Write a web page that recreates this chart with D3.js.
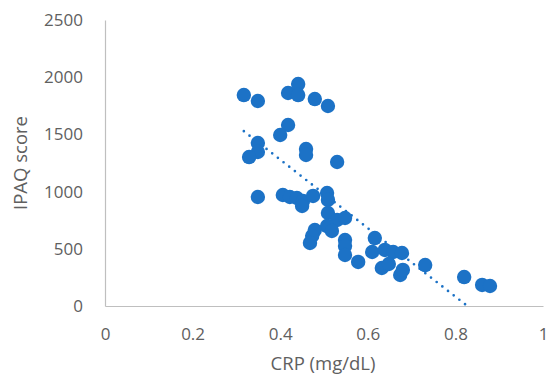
<!DOCTYPE html>
<html>
<head>
<meta charset="utf-8">
<script src="https://cdn.jsdelivr.net/npm/d3@7"></script>
<style>
  html, body { margin: 0; padding: 0; background: #fff; }
  svg { display: block; }
</style>
</head>
<body>
<svg id="chart" width="549" height="383"></svg>
<script>
// ---- data ----
const crp = [
  0.317, 0.349, 0.418, 0.441, 0.441, 0.479, 0.509, 0.418, 0.400, 0.349,
  0.349, 0.329, 0.459, 0.459, 0.530,
  0.349, 0.406, 0.422, 0.438, 0.452, 0.475, 0.507, 0.509, 0.450, 0.509,
  0.530, 0.548, 0.507, 0.518, 0.479, 0.473, 0.468, 0.548, 0.548, 0.548,
  0.578, 0.616, 0.610, 0.639, 0.658, 0.678, 0.632, 0.648, 0.674, 0.680,
  0.731, 0.820, 0.861, 0.879
];
const ipaq = [
  1844, 1792, 1862, 1940, 1844, 1809, 1748, 1582, 1495, 1425,
  1346, 1302, 1372, 1320, 1259,
  953, 970, 953, 944, 918, 962, 988, 927, 874, 813,
  752, 769, 699, 656, 664, 612, 551, 577, 524, 446,
  385, 594, 472, 490, 472, 463, 332, 367, 271, 315,
  358, 253, 184, 175
];
const xTicks = [0, 0.2, 0.4, 0.6, 0.8, 1];
const xTickLabels = ["0", "0.2", "0.4", "0.6", "0.8", "1"];
const yTicks = [0, 500, 1000, 1500, 2000, 2500];
const yTickLabels = ["0", "500", "1000", "1500", "2000", "2500"];
const xTitle = "CRP (mg/dL)";
const yTitle = "IPAQ score";

// ---- layout ----
const svg = d3.select("#chart");
const L = 105, R = 543, T = 20, B = 306;
const x = d3.scaleLinear().domain([0, 1]).range([L, R]);
const y = d3.scaleLinear().domain([0, 2500]).range([B, T]);
const font = "'Open Sans', 'Liberation Sans', sans-serif";
const textColor = "#606060";
const axisColor = "#bfbfbf";
const dotColor = "#1c72c6";

// axes
const xAxis = svg.append("g").attr("transform", `translate(0,${B})`)
  .call(d3.axisBottom(x).tickValues(xTicks).tickSize(0)
    .tickFormat((d, i) => xTickLabels[i]).tickPadding(22));
const yAxis = svg.append("g").attr("transform", `translate(${L},0)`)
  .call(d3.axisLeft(y).tickValues(yTicks).tickSize(0)
    .tickFormat((d, i) => yTickLabels[i]).tickPadding(22));
[xAxis, yAxis].forEach(g => {
  g.select(".domain").attr("stroke", axisColor).attr("stroke-width", 1.2);
  g.selectAll("text").attr("fill", textColor)
    .style("font-family", font).style("font-size", "17px");
});

// axis titles
svg.append("text").attr("x", (L + R) / 2 - 1).attr("y", 370)
  .attr("text-anchor", "middle").attr("fill", textColor)
  .style("font-family", font).style("font-size", "18.5px").text(xTitle);
svg.append("text").attr("transform", `translate(27,${163}) rotate(-90)`)
  .attr("text-anchor", "middle").attr("fill", textColor)
  .style("font-family", font).style("font-size", "18.5px").text(yTitle);

// linear trend line (least squares from the data)
const n = crp.length;
const mx = d3.mean(crp), my = d3.mean(ipaq);
let sxy = 0, sxx = 0;
for (let i = 0; i < n; i++) { sxy += (crp[i] - mx) * (ipaq[i] - my); sxx += (crp[i] - mx) ** 2; }
const slope = sxy / sxx, icpt = my - slope * mx;
const x0 = d3.min(crp);
let x1 = d3.max(crp);
const xZero = -icpt / slope;
if (xZero < x1) x1 = xZero;
svg.append("line")
  .attr("x1", x(x0)).attr("y1", y(icpt + slope * x0))
  .attr("x2", x(x1)).attr("y2", y(icpt + slope * x1))
  .attr("stroke", dotColor).attr("stroke-width", 2.7)
  .attr("stroke-linecap", "round").attr("stroke-dasharray", "0 7.2");

// points
svg.append("g").selectAll("circle").data(crp).join("circle")
  .attr("cx", d => x(d)).attr("cy", (d, i) => y(ipaq[i]))
  .attr("r", 7.2).attr("fill", dotColor);
</script>
</body>
</html>
